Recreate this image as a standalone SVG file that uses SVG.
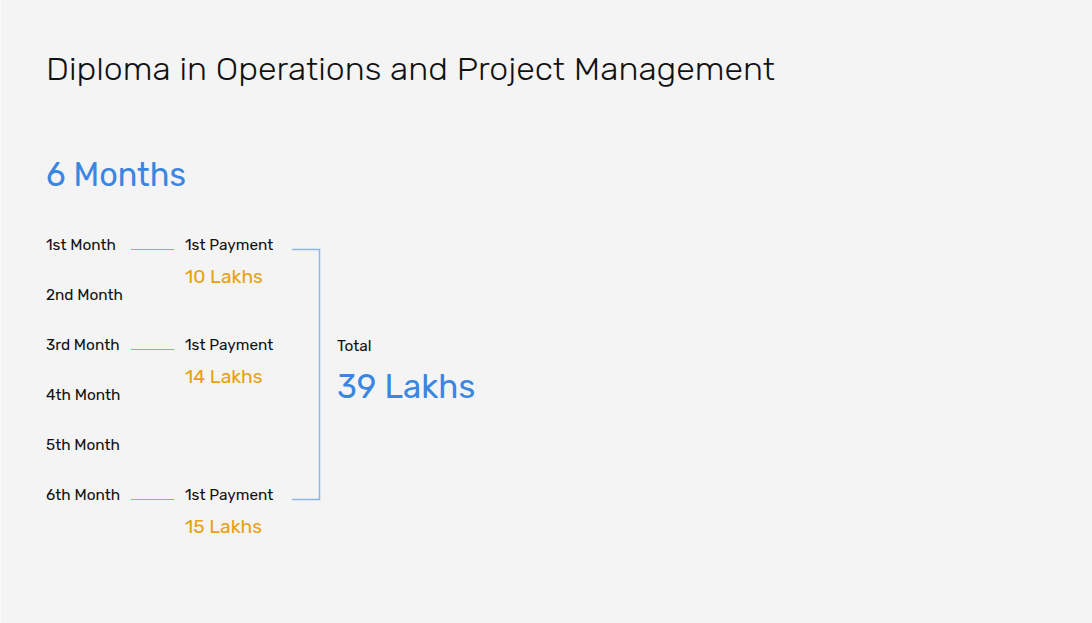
<svg xmlns="http://www.w3.org/2000/svg" width="1092" height="623" viewBox="0 0 1092 623">
<style>
text{font-family:Rubik,Roboto,"Liberation Sans",sans-serif;}
.title{font-size:32px;font-weight:300;fill:#111;}
.big{font-size:33px;fill:#3A86E0;}
.lbl{font-size:15.4px;fill:#111;}
.amt{font-size:19.2px;fill:#E8A00E;}
.conn{stroke:#E8A00E;stroke-width:1;fill:none;}
.br{stroke:#8DB6EA;stroke-width:1.5;fill:none;}
</style>
<rect width="1092" height="623" fill="#F4F4F4"/>
<rect x="0" y="0" width="1" height="623" fill="#FAFAFA"/>
<text class="title" x="46" y="80" textLength="729" lengthAdjust="spacingAndGlyphs">Diploma in Operations and Project Management</text>
<text class="big" x="46" y="186" textLength="140" lengthAdjust="spacingAndGlyphs">6 Months</text>
<g id="months">
<text class="lbl" x="46" y="250">1st Month</text>
<text class="lbl" x="46" y="300">2nd Month</text>
<text class="lbl" x="46" y="350">3rd Month</text>
<text class="lbl" x="46" y="400">4th Month</text>
<text class="lbl" x="46" y="450">5th Month</text>
<text class="lbl" x="46" y="500">6th Month</text>
</g>
<g id="payment1">
<text class="lbl" x="185" y="250">1st Payment</text>
<text class="amt" x="185" y="283">10 Lakhs</text>
</g>
<g id="payment2">
<text class="lbl" x="185" y="350">1st Payment</text>
<text class="amt" x="185" y="383">14 Lakhs</text>
</g>
<g id="payment3">
<text class="lbl" x="185" y="500">1st Payment</text>
<text class="amt" x="185" y="533">15 Lakhs</text>
</g>
<g id="total">
<text class="lbl" x="337" y="351">Total</text>
<text class="big" x="337" y="398">39 Lakhs</text>
</g>
<g id="connectors">
<line class="conn" x1="131" y1="249.5" x2="174" y2="249.5"/>
<line class="conn" x1="131" y1="349.5" x2="174" y2="349.5"/>
<line class="conn" x1="131" y1="499.5" x2="174" y2="499.5"/>
<polyline class="br" points="292,249.5 319.5,249.5 319.5,499.5 292,499.5"/>
</g>
</svg>
